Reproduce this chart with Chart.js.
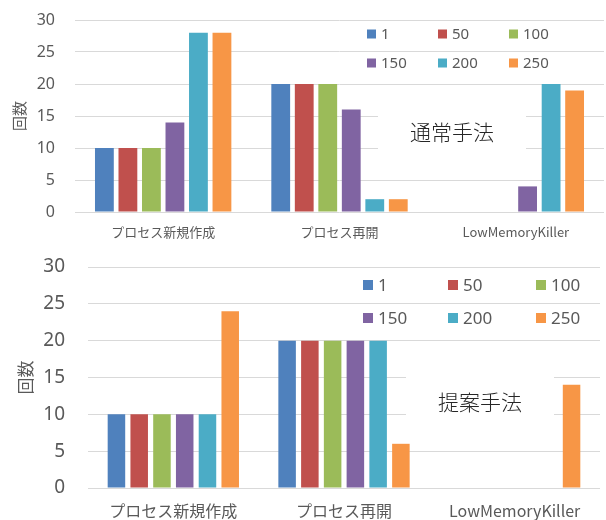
<!DOCTYPE html>
<html>
<head>
<meta charset="utf-8">
<script src="https://cdn.jsdelivr.net/npm/chart.js@4/dist/chart.umd.min.js"></script>
<style>
  html, body { margin: 0; padding: 0; background: #fff; }
  #wrap { position: relative; width: 606px; height: 520px; overflow: hidden; }
  canvas { position: absolute; left: 0; }
</style>
</head>
<body>
<div id="wrap">
  <canvas id="c1" width="606" height="248" style="top:0px"></canvas>
  <canvas id="c2" width="606" height="272" style="top:248px"></canvas>
</div>
<script>
// ---- data ----
const categories = ['プロセス新規作成', 'プロセス再開', 'LowMemoryKiller'];
const seriesLabels = ['1', '50', '100', '150', '200', '250'];
const seriesColors = ['#4F81BD', '#C0504D', '#9BBB59', '#8064A2', '#4BACC6', '#F79646'];
const yTicks = [0, 5, 10, 15, 20, 25, 30];
const yTitle = '回数';

// 通常手法 (top)
const conv_1   = [10, 20, 0];
const conv_50  = [10, 20, 0];
const conv_100 = [10, 20, 0];
const conv_150 = [14, 16, 4];
const conv_200 = [28, 2, 20];
const conv_250 = [28, 2, 19];
const convTitle = '通常手法';

// 提案手法 (bottom)
const prop_1   = [10, 20, 0];
const prop_50  = [10, 20, 0];
const prop_100 = [10, 20, 0];
const prop_150 = [10, 20, 0];
const prop_200 = [10, 20, 0];
const prop_250 = [24, 6, 14];
const propTitle = '提案手法';

const FONT = "'Noto Sans', 'Noto Sans CJK JP', sans-serif";
const JPFONT = "'Noto Sans CJK JP', 'Noto Sans', sans-serif";
const TXT = '#595959';
const GRID = '#D9D9D9';

const overlayPlugin = {
  id: 'overlay',
  afterDraw(chart, args, o) {
    const ctx = chart.ctx;
    ctx.save();
    // annotation box
    ctx.fillStyle = '#ffffff';
    ctx.fillRect(o.box.x, o.box.y, o.box.w, o.box.h);
    ctx.fillStyle = '#262626';
    ctx.font = '300 ' + o.annFont + 'px ' + JPFONT;
    ctx.textAlign = 'center';
    ctx.textBaseline = 'middle';
    ctx.fillText(o.ann, o.annX, o.annY);
    // legend
    ctx.font = o.legFont + 'px ' + FONT;
    ctx.textAlign = 'left';
    chart.data.datasets.forEach((ds, i) => {
      const col = i % 3, row = Math.floor(i / 3);
      const x = o.legX[col], y = o.legY[row];
      ctx.fillStyle = ds.backgroundColor;
      ctx.fillRect(x, y - o.legBox / 2, o.legBox, o.legBox);
      ctx.fillStyle = TXT;
      ctx.fillText(ds.label, x + o.legBox + 5, y + 1);
    });
    ctx.restore();
  }
};

function makeChart(id, series, cfg) {
  const datasets = seriesLabels.map((lab, i) => ({
    label: lab,
    data: series[i],
    backgroundColor: seriesColors[i],
    borderWidth: 0,
    categoryPercentage: cfg.catPct,
    barPercentage: cfg.barPct
  }));
  return new Chart(document.getElementById(id), {
    type: 'bar',
    data: { labels: categories, datasets },
    plugins: [overlayPlugin],
    options: {
      responsive: false,
      animation: false,
      layout: { padding: { top: cfg.padTop, right: cfg.padRight, left: 0, bottom: 0 } },
      plugins: {
        legend: { display: false },
        tooltip: { enabled: false },
        overlay: cfg.overlay
      },
      scales: {
        x: {
          grid: { display: false, drawTicks: false },
          border: { display: false },
          ticks: { color: TXT, font: { size: cfg.xFont, family: JPFONT }, padding: cfg.xPad, maxRotation: 0 },
          afterFit(s) { s.height = cfg.xHeight; }
        },
        y: {
          min: 0, max: 30,
          afterBuildTicks(s) { s.ticks = yTicks.map(v => ({ value: v })); },
          grid: { color: GRID, lineWidth: 1, drawTicks: false },
          border: { display: false },
          ticks: { color: TXT, font: { size: cfg.yFont, family: FONT }, padding: cfg.yPad },
          title: { display: true, text: yTitle, color: TXT, font: { size: cfg.titleFont, family: JPFONT }, padding: { top: cfg.titlePad, bottom: 0 } },
          afterFit(s) { s.width = cfg.yWidth; s.paddingTop = 0; s.paddingBottom = 0; }
        }
      }
    }
  });
}

makeChart('c1', [conv_1, conv_50, conv_100, conv_150, conv_200, conv_250], {
  catPct: 0.8, barPct: 0.8,
  padTop: 20, padRight: 2,
  xFont: 13, xPad: 12, xHeight: 36,
  yFont: 16, yPad: 20, yWidth: 75,
  titleFont: 15, titlePad: 10,
  overlay: {
    box: { x: 378, y: 100, w: 148, h: 60 },
    ann: convTitle, annFont: 21, annX: 452, annY: 132,
    legFont: 15, legBox: 9, legX: [367, 438, 509], legY: [34, 63]
  }
});

makeChart('c2', [prop_1, prop_50, prop_100, prop_150, prop_200, prop_250], {
  catPct: 0.8, barPct: 0.77,
  padTop: 19, padRight: 6,
  xFont: 16, xPad: 13, xHeight: 32,
  yFont: 19, yPad: 23, yWidth: 88,
  titleFont: 17, titlePad: 15,
  overlay: {
    box: { x: 406, y: 115, w: 148, h: 65 },
    ann: propTitle, annFont: 21, annX: 480, annY: 154,
    legFont: 17, legBox: 10, legX: [363, 448, 536], legY: [37, 70]
  }
});
</script>
</body>
</html>
